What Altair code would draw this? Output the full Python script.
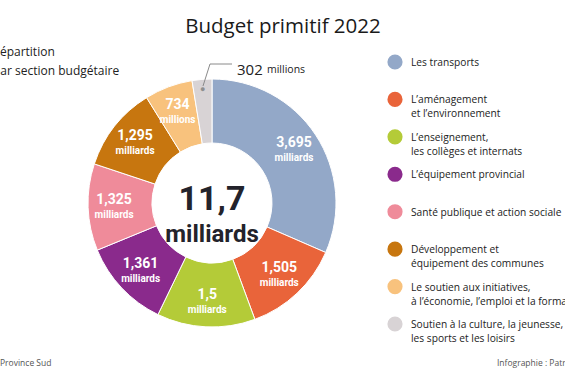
import altair as alt
import pandas as pd

categories = [
    "Les transports",
    "L’aménagement et l’environnement",
    "L’enseignement, les collèges et internats",
    "L’équipement provincial",
    "Santé publique et action sociale",
    "Développement et équipement des communes",
    "Le soutien aux initiatives, à l’économie, l’emploi et la formation",
    "Soutien à la culture, la jeunesse, les sports et les loisirs",
]
legend_lines = [
    "Les transports",
    "L’aménagement\net l’environnement",
    "L’enseignement,\nles collèges et internats",
    "L’équipement provincial",
    "Santé publique et action sociale",
    "Développement et\néquipement des communes",
    "Le soutien aux initiatives,\nà l’économie, l’emploi et la formation",
    "Soutien à la culture, la jeunesse,\nles sports et les loisirs",
]
values = [3.695, 1.505, 1.5, 1.361, 1.325, 1.295, 0.734, 0.302]
value_labels = ["3,695", "1,505", "1,5", "1,361", "1,325", "1,295", "734", ""]
unit_labels = ["milliards"] * 6 + ["millions", ""]
dot_labels = [""] * 7 + ["●"]
colors = ["#93A8C8", "#E9643A", "#B4CB38", "#8A2A8C", "#EF8B9A", "#C7760F", "#F8C27D", "#D8D3D5"]

df = pd.DataFrame({
    "cat": categories,
    "label": legend_lines,
    "value": values,
    "vlab": value_labels,
    "ulab": unit_labels,
    "dot": dot_labels,
    "idx": list(range(len(categories))),
})

CX, CY = 212, 203
color_scale = alt.Scale(domain=categories, range=colors)
theta = alt.Theta("value:Q", stack=True)
order = alt.Order("idx:Q", sort="ascending")

base = alt.Chart(df)

arcs = base.mark_arc(outerRadius=124, innerRadius=60, stroke="#ffffff", strokeWidth=1).encode(
    theta=theta, order=order,
    color=alt.Color("cat:N", scale=color_scale, legend=None),
    x=alt.value(CX), y=alt.value(CY),
)

num_text = base.mark_text(font="Roboto", fontWeight="bold", fontSize=14, color="white",
                          radius=98, dy=-6).encode(
    theta=theta, order=order, text="vlab:N", x=alt.value(CX), y=alt.value(CY),
)
unit_text = base.mark_text(font="Roboto", fontWeight="bold", fontSize=10, color="white",
                           radius=98, dy=9).encode(
    theta=theta, order=order, text="ulab:N", x=alt.value(CX), y=alt.value(CY),
)
dot_text = base.mark_text(fontSize=9, color="#8f8f8f", radius=114).encode(
    theta=theta, order=order, text="dot:N", x=alt.value(CX), y=alt.value(CY),
)

ypos = alt.Y("cat:N", scale=alt.Scale(domain=categories, type="point", range=[62, 324], padding=0), axis=None)
leg_dots = base.mark_circle(size=230, opacity=1).encode(
    x=alt.value(395), y=ypos,
    color=alt.Color("cat:N", scale=color_scale, legend=None),
)
leg_text = base.mark_text(font="Open Sans", fontSize=10.2, color="#222222", align="left",
                          baseline="alphabetic", dy=4, lineBreak="\n", lineHeight=14).encode(
    x=alt.value(411), y=ypos, text="label:N",
)

one = alt.Chart(pd.DataFrame({"a": [0]}))

def txt(s, x, y, **kw):
    return one.mark_text(**kw).encode(x=alt.value(x), y=alt.value(y), text=alt.value(s))

title = txt("Budget primitif 2022", 283, 27, font="Open Sans", fontSize=20.5, color="#1a1a1a", align="center")
sub1 = txt("Répartition", -7.5, 52, font="Open Sans", fontSize=12, color="#222222", align="left")
sub2 = txt("par section budgétaire", -7, 71, font="Open Sans", fontSize=12, color="#222222", align="left")
center1 = txt("11,7", CX, 200, font="Roboto", fontWeight="bold", fontSize=34, color="#23232b", align="center")
center2 = txt("milliards", CX, 235, font="Roboto", fontWeight="bold", fontSize=24, color="#23232b", align="center")
lab302a = txt("302", 237, 70, font="Open Sans", fontSize=15, color="#222222", align="left")
lab302b = txt("millions", 267, 70, font="Open Sans", fontSize=10.5, color="#222222", align="left")
foot1 = txt("Province Sud", 0, 363, font="Open Sans", fontSize=8.5, color="#555555", align="left")
foot2 = txt("Infographie : Patrice", 497, 363, font="Open Sans", fontSize=8.5, color="#555555", align="left")

lead1 = one.mark_rule(color="#8a8a8a", strokeWidth=1).encode(
    x=alt.value(203), y=alt.value(86), x2=alt.value(210), y2=alt.value(64))
lead2 = one.mark_rule(color="#8a8a8a", strokeWidth=1).encode(
    x=alt.value(210), y=alt.value(64), x2=alt.value(232), y2=alt.value(64))

chart = alt.layer(
    arcs, num_text, unit_text, dot_text, lead1, lead2,
    leg_dots, leg_text,
    title, sub1, sub2, center1, center2, lab302a, lab302b, foot1, foot2,
).properties(
    width=565, height=377, padding=0,
    autosize=alt.AutoSizeParams(type="none"),
    background="white",
).configure_view(stroke=None)

chart.save("out.html", embed_options={"renderer": "svg", "actions": False})
